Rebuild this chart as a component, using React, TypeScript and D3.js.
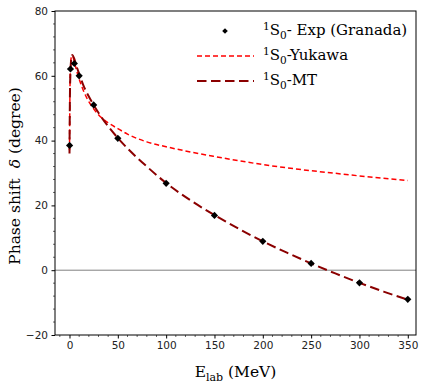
import * as d3 from "d3";
import React, { useEffect, useRef } from "react";

// Granada 1S0 phase shifts
const expEnergy = [0.1, 1, 5, 10, 25, 50, 100, 150, 200, 250, 300, 350];
const expDelta = [38.5, 62.1, 63.8, 60.0, 51.0, 40.7, 26.8, 16.9, 8.9, 2.1, -3.9, -9.0];

// model curves
const curveEnergy = [0, 0.5, 1, 2, 3, 5, 7, 10, 15, 20, 25, 30, 40, 50, 60, 80, 100, 125, 150, 175, 200, 225, 250, 275, 300, 325, 350];
const yukawaDelta = [37, 56, 62, 66, 66.2, 64.3, 62, 59, 55, 52, 49.8, 48, 45.5, 43.7, 42, 39.6, 38.1, 36.5, 35.1, 33.8, 32.6, 31.6, 30.7, 29.9, 29.1, 28.4, 27.7];
const mtDelta = [36, 55, 61, 65.6, 66.4, 65.2, 63.2, 60.6, 56.6, 53.6, 51, 48.6, 44.4, 40.8, 37.6, 32, 26.9, 21.6, 17, 12.8, 8.9, 5.4, 2.1, -1, -3.9, -6.6, -9.1];

const xTicks = [0, 50, 100, 150, 200, 250, 300, 350];
const yTicks = [-20, 0, 20, 40, 60, 80];

const W = 421, H = 388;
const margin = { l: 55, r: 5, t: 11, b: 53 };

export default function App() {
  const ref = useRef<SVGSVGElement>(null);

  useEffect(() => {
    const svg = d3.select(ref.current);
    svg.selectAll("*").remove();

    const x = d3.scaleLinear().domain([-15, 358.5]).range([margin.l, W - margin.r]);
    const y = d3.scaleLinear().domain([-20, 80]).range([H - margin.b, margin.t]);
    const tickFont = "DejaVu Sans";
    const serif = "DejaVu Serif";
    const yukDash = "5,3";
    const mtDash = "9.5,4.5";

    // zero line
    svg.append("line")
      .attr("x1", x.range()[0]).attr("x2", x.range()[1])
      .attr("y1", y(0)).attr("y2", y(0))
      .attr("stroke", "#808080").attr("stroke-width", 1);

    const line = d3.line<number>()
      .x((d, i) => x(curveEnergy[i]))
      .y((d) => y(d))
      .curve(d3.curveMonotoneX);

    svg.append("path")
      .attr("d", line(yukawaDelta))
      .attr("fill", "none").attr("stroke", "#ff0000")
      .attr("stroke-width", 1.5).attr("stroke-dasharray", yukDash);

    svg.append("path")
      .attr("d", line(mtDelta))
      .attr("fill", "none").attr("stroke", "#8b0000")
      .attr("stroke-width", 2).attr("stroke-dasharray", mtDash);

    const diamond = (cx: number, cy: number, r: number) =>
      `M${cx},${cy - r}L${cx + r},${cy}L${cx},${cy + r}L${cx - r},${cy}Z`;

    svg.append("g").selectAll("path")
      .data(expDelta)
      .enter().append("path")
      .attr("d", (d, i) => diamond(x(expEnergy[i]), y(d), 3.6))
      .attr("fill", "black");

    // frame
    svg.append("rect")
      .attr("x", x.range()[0]).attr("y", y.range()[1])
      .attr("width", x.range()[1] - x.range()[0])
      .attr("height", y.range()[0] - y.range()[1])
      .attr("fill", "none").attr("stroke", "black").attr("stroke-width", 1);

    // x axis
    const xAxis = svg.append("g").attr("transform", `translate(0,${y.range()[0]})`);
    xAxis.call(d3.axisBottom(x).tickValues(xTicks).tickSize(3.5).tickPadding(3.5).tickFormat(d3.format("d")))
      .call((g) => g.select(".domain").remove());
    xAxis.selectAll(".tick text").style("font-family", tickFont).style("font-size", "10.5px").attr("fill", "#222");
    const xMinor = d3.range(-10, 360, 10).filter((v) => v % 50 !== 0);
    xAxis.selectAll(".minor").data(xMinor).enter().append("line")
      .attr("x1", (d) => x(d)).attr("x2", (d) => x(d))
      .attr("y1", 0).attr("y2", 2).attr("stroke", "black").attr("stroke-width", 0.6);

    // y axis
    const yAxis = svg.append("g").attr("transform", `translate(${x.range()[0]},0)`);
    yAxis.call(d3.axisLeft(y).tickValues(yTicks).tickSize(3.5).tickPadding(3.5)
      .tickFormat((d) => (d as number) < 0 ? `\u2212${Math.abs(d as number)}` : `${d}`))
      .call((g) => g.select(".domain").remove());
    yAxis.selectAll(".tick text").style("font-family", tickFont).style("font-size", "10.5px").attr("fill", "#222");
    const yMinor = d3.range(-20, 80, 4).filter((v) => v % 20 !== 0);
    yAxis.selectAll(".minor").data(yMinor).enter().append("line")
      .attr("y1", (d) => y(d)).attr("y2", (d) => y(d))
      .attr("x1", 0).attr("x2", -2).attr("stroke", "black").attr("stroke-width", 0.6);

    // axis labels
    const xl = svg.append("text")
      .attr("x", (x.range()[0] + x.range()[1]) / 2).attr("y", 377)
      .attr("text-anchor", "middle")
      .style("font-family", serif).style("font-size", "15.5px");
    xl.append("tspan").text("E");
    xl.append("tspan").text("lab").attr("dy", 4).style("font-size", "11px");
    xl.append("tspan").text(" (MeV)").attr("dy", -4);

    const yl = svg.append("text")
      .attr("transform", `translate(20,${(y.range()[0] + y.range()[1]) / 2 + 3}) rotate(-90)`)
      .attr("text-anchor", "middle")
      .style("font-family", serif).style("font-size", "15.5px");
    yl.append("tspan").text("Phase shift\u00a0\u00a0");
    yl.append("tspan").text("δ").style("font-style", "italic");
    yl.append("tspan").text(" (degree)");

    // legend
    const legend = svg.append("g");
    const rows = [
      { label: "- Exp (Granada)", kind: "exp" },
      { label: "-Yukawa", kind: "yuk" },
      { label: "-MT", kind: "mt" },
    ];
    rows.forEach((r, i) => {
      const ly = 31 + i * 25;
      if (r.kind === "exp") {
        legend.append("path").attr("d", diamond(225, ly, 2.8)).attr("fill", "black");
      } else {
        legend.append("line")
          .attr("x1", 197).attr("x2", 254).attr("y1", ly).attr("y2", ly)
          .attr("stroke", r.kind === "yuk" ? "#ff0000" : "#8b0000")
          .attr("stroke-width", r.kind === "yuk" ? 1.5 : 2)
          .attr("stroke-dasharray", r.kind === "yuk" ? yukDash : mtDash);
      }
      const t = legend.append("text")
        .attr("x", 263).attr("y", ly + 4)
        .style("font-family", serif).style("font-size", "15px");
      t.append("tspan").text("1").attr("dy", -5.5).style("font-size", "10.5px");
      t.append("tspan").text("S").attr("dy", 5.5);
      t.append("tspan").text("0").attr("dy", 4).style("font-size", "10.5px");
      t.append("tspan").text(r.label).attr("dy", -4);
    });
  }, []);

  return (
    <svg ref={ref} width={W} height={H}
      style={{ position: "absolute", left: 0, top: 0, background: "white" }} />
  );
}
